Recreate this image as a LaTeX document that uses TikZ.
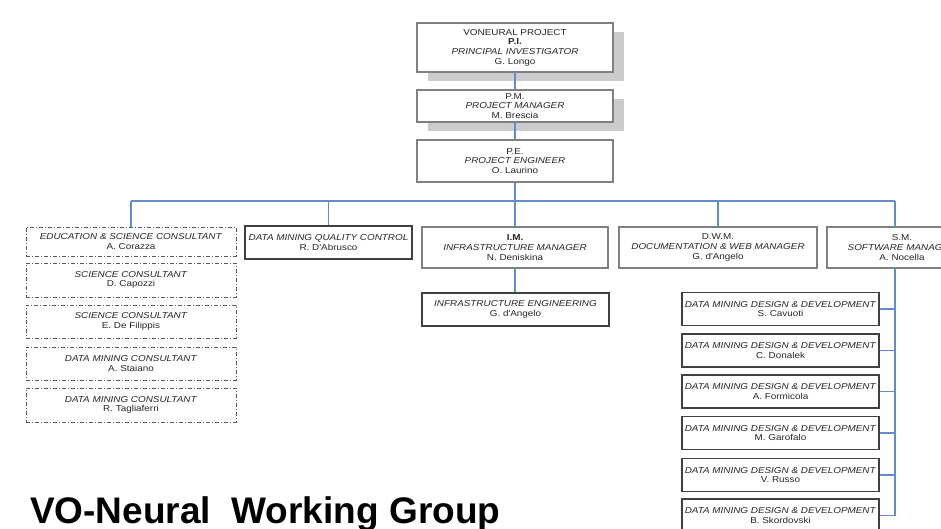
\documentclass[tikz,border=0pt]{standalone}
\usepackage{fontspec}
\setmainfont{Liberation Sans}
\newfontfamily\boxfont[FakeStretch=1.15]{Liberation Sans}
\usetikzlibrary{shadows}
\definecolor{connblue}{RGB}{100,140,205}
\begin{document}
\begin{tikzpicture}[x=1pt,y=-1pt,
  txt/.style={font=\boxfont\fontsize{8.6}{9.6}\selectfont, align=center, text=black!85, inner sep=0pt},
  dbox/.style={txt, draw=black!80, line width=0.7pt, double=black!50, double distance=1.1pt, fill=white},
  sbox/.style={txt, draw=black!75, line width=1.2pt, fill=white},
  cbox/.style={txt, draw=black!65, line width=0.8pt, dash pattern=on 4pt off 2pt on 1pt off 2pt, minimum width=210pt},
  shad/.style={drop shadow={shadow xshift=11pt, shadow yshift=-9pt, fill=black!20, opacity=1}},
  conn/.style={draw=connblue, line width=1.1pt}
]
\useasboundingbox (0,0) rectangle (941,529);
\clip (0,0) rectangle (941,529);
\fill[white] (0,0) rectangle (941,529);

% top chain
\node[dbox, shad, minimum width=196pt, minimum height=49pt] (pi) at (515,47.5)
  {VONEURAL PROJECT\\\textbf{P.I.}\\\textit{PRINCIPAL INVESTIGATOR}\\G. Longo};
\node[dbox, shad, minimum width=196pt, minimum height=32pt] (pm) at (515,106)
  {P.M.\\\textit{PROJECT MANAGER}\\M. Brescia};
\node[dbox, minimum width=196pt, minimum height=42pt] (pe) at (515,161)
  {P.E.\\\textit{PROJECT ENGINEER}\\O. Laurino};

% consultants
\node[cbox, minimum height=29pt] (c1) at (131,241.5) {\textit{EDUCATION \& SCIENCE CONSULTANT}\\A. Corazza};
\node[cbox, minimum height=34pt] (c2) at (131,280) {\textit{SCIENCE CONSULTANT}\\D. Capozzi};
\node[cbox, minimum height=33pt] (c3) at (131,321.5) {\textit{SCIENCE CONSULTANT}\\E. De Filippis};
\node[cbox, minimum height=33pt] (c4) at (131,363.5) {\textit{DATA MINING CONSULTANT}\\A. Staiano};
\node[cbox, minimum height=34pt] (c5) at (131,405) {\textit{DATA MINING CONSULTANT}\\R. Tagliaferri};

% quality control
\node[sbox, minimum width=167pt, minimum height=33pt] (qc) at (328.5,242.5) {\textit{DATA MINING QUALITY CONTROL}\\R. D'Abrusco};

% managers
\node[dbox, minimum width=186pt, minimum height=41pt] (im) at (515,247.5)
  {\textbf{I.M.}\\\textit{INFRASTRUCTURE MANAGER}\\N. Deniskina};
\node[sbox, minimum width=187pt, minimum height=33pt] (ie) at (515.5,309.5)
  {\textit{INFRASTRUCTURE ENGINEERING}\\G. d'Angelo};
\node[dbox, minimum width=198pt, minimum height=41pt] (dwm) at (718,247.5)
  {D.W.M.\\\textit{DOCUMENTATION \& WEB MANAGER}\\G. d'Angelo};
\node[dbox, minimum width=150pt, minimum height=41pt] (sm) at (902,247.5)
  {S.M.\\\textit{SOFTWARE MANAGER}\\A. Nocella};

% developers
\foreach \n/\y/\name in {d1/309/S. Cavuoti, d2/350.5/C. Donalek, d3/391.5/A. Formicola, d4/433/M. Garofalo, d5/475/V. Russo, d6/515.5/B. Skordovski}{
  \node[sbox, minimum width=197pt, minimum height=33pt] (\n) at (780.5,\y)
    {\textit{DATA MINING DESIGN \& DEVELOPMENT}\\\name};
}

% connectors
\coordinate (busL) at (131,201);
\coordinate (busR) at (895,201);
\draw[conn] (pi.south) -- (pm.north);
\draw[conn] (pm.south) -- (pe.north);
\draw[conn] (pe.south) -- (pe.south |- busL);
\draw[conn] (busL) -- (busR);
\draw[conn] (busL) -- (c1.north);
\draw[conn] (qc.north |- busL) -- (qc.north);
\draw[conn] (im.north |- busL) -- (im.north);
\draw[conn] (im.south) -- (im.south |- ie.north);
\draw[conn] (dwm.north |- busL) -- (dwm.north);
\draw[conn] (busR) -- (busR |- sm.north);
\draw[conn] (busR |- sm.south) -- (busR |- d6.east);
\foreach \n in {d1,d2,d3,d4,d5,d6}{
  \draw[conn] (\n.east) -- (\n.east -| busR);
}

% title
\node[anchor=base west, inner sep=0pt, font=\fontsize{37}{40}\selectfont\bfseries] (title) at (30,523) {VO-Neural\ \ Working Group};
\end{tikzpicture}
\end{document}
